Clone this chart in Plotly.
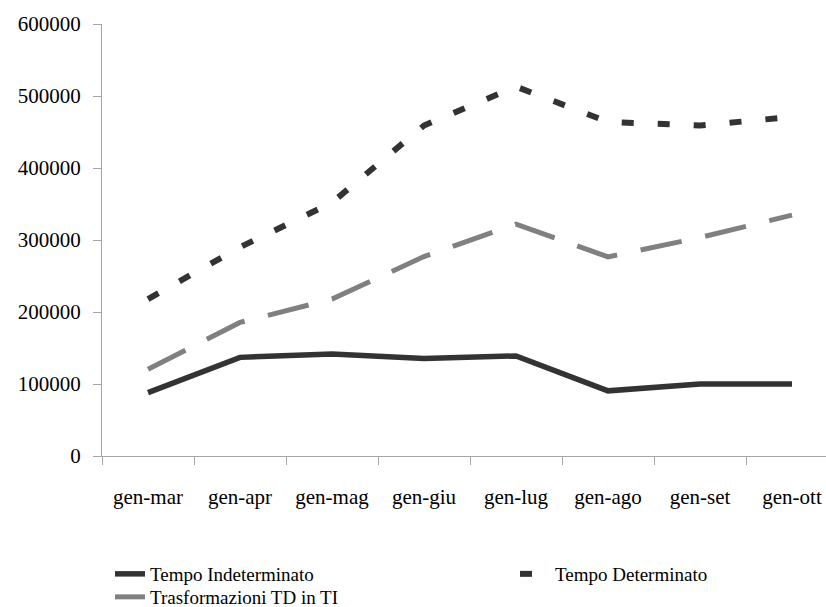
import plotly.graph_objects as go

categories = ["gen-mar", "gen-apr", "gen-mag", "gen-giu", "gen-lug", "gen-ago", "gen-set", "gen-ott"]
tempo_indeterminato = [88000, 137000, 141500, 135500, 139000, 90500, 100000, 100000]
tempo_determinato = [218000, 290000, 352000, 459000, 513000, 464000, 459000, 471000]
trasformazioni = [120500, 185500, 218000, 277000, 322000, 276500, 303500, 334500]
y_ticks = [0, 100000, 200000, 300000, 400000, 500000, 600000]

FONT = "Liberation Serif"
W, H = 826, 607

fig = go.Figure()
fig.add_trace(go.Scatter(
    x=categories, y=tempo_indeterminato, mode="lines", name="Tempo Indeterminato",
    line=dict(color="#333333", width=5.5), legend="legend"))
fig.add_trace(go.Scatter(
    x=categories, y=tempo_determinato, mode="lines", name="Tempo Determinato",
    line=dict(color="#333333", width=6, dash="12px,24px"), legend="legend2"))
fig.add_trace(go.Scatter(
    x=categories, y=trasformazioni, mode="lines", name="Trasformazioni TD in TI",
    line=dict(color="#808080", width=5, dash="42px,24px"), legend="legend3"))

left, top, bottom = 102, 24, 151
cat_w = 92
plot_w = W - left
x_end = -0.5 + plot_w / cat_w

legend_common = dict(font=dict(family=FONT, size=19, color="#000000"),
                     bgcolor="rgba(0,0,0,0)", xref="container", yref="container",
                     xanchor="left", yanchor="middle", tracegroupgap=0,
                     itemclick=False, itemdoubleclick=False)

fig.update_layout(
    width=W, height=H,
    margin=dict(l=left, r=0, t=top, b=bottom, autoexpand=False),
    paper_bgcolor="white", plot_bgcolor="white",
    font=dict(family=FONT, size=21, color="#000000"),
    showlegend=True,
    legend=dict(x=(152 - 42) / W, y=1 - 574 / H, **legend_common),
    legend2=dict(x=(557 - 42) / W, y=1 - 574 / H, **legend_common),
    legend3=dict(x=(152 - 42) / W, y=1 - 597 / H, **legend_common),
    xaxis=dict(
        type="category", categoryorder="array", categoryarray=categories,
        range=[-0.5, x_end], showgrid=False, zeroline=False,
        showline=True, linecolor="#a6a6a6", linewidth=1,
        ticks="outside", ticklen=8, tickcolor="#a6a6a6", tickwidth=1,
        tickson="boundaries", ticklabelstandoff=22,
        tickfont=dict(family=FONT, size=21, color="#000000"),
    ),
    yaxis=dict(
        range=[0, 600000], tickvals=y_ticks, ticktext=[str(v) for v in y_ticks],
        showgrid=False, zeroline=False,
        showline=True, linecolor="#a6a6a6", linewidth=1,
        ticks="outside", ticklen=8, tickcolor="#a6a6a6", tickwidth=1,
        ticklabelstandoff=8,
        tickfont=dict(family=FONT, size=21, color="#000000"),
    ),
)

fig.write_html("out.html")
